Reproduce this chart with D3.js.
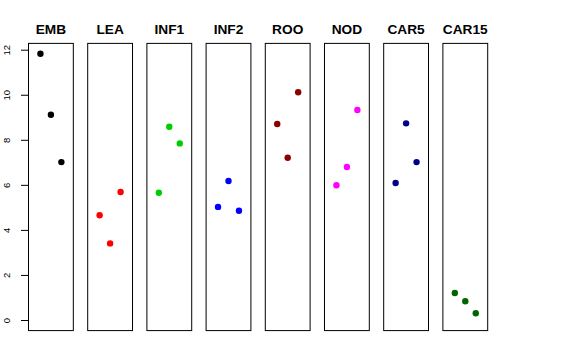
<!DOCTYPE html>
<html>
<head>
<meta charset="utf-8">
<script src="https://cdn.jsdelivr.net/npm/d3@7"></script>
<style>
  html, body { margin: 0; padding: 0; background: #fff; }
  svg { display: block; }
</style>
</head>
<body>
<svg id="chart" width="576" height="360"></svg>
<script>
// ---- data ----
const categories = ["EMB", "LEA", "INF1", "INF2", "ROO", "NOD", "CAR5", "CAR15"];
const colors = ["#000000", "#FF0000", "#00CD00", "#0000FF", "#8B0000", "#FF00FF", "#00008B", "#006400"];
const rep1 = [11.82, 4.65, 5.65, 5.02, 8.70, 5.98, 6.08, 1.20];
const rep2 = [9.11, 3.40, 8.58, 6.17, 7.20, 6.79, 8.73, 0.83];
const rep3 = [7.01, 5.68, 7.84, 4.85, 10.11, 9.32, 7.01, 0.30];
const yTicks = [0, 2, 4, 6, 8, 10, 12];

// ---- layout ----
const svg = d3.select("#chart");
const panelLeft = 28.5, panelRight = 487.7;
const panelTopVal = 12.28, panelBotVal = -0.47;

const xBand = d3.scaleBand().domain(categories).range([panelLeft, panelRight])
  .paddingInner(0.243).paddingOuter(0);
const y = d3.scaleLinear().domain([0, 12]).range([320, 49.7]);
const xIn = d3.scaleLinear().domain([-0.14, 4.14]);

const reps = [rep1, rep2, rep3];

categories.forEach((cat, i) => {
  const x0 = xBand(cat), bw = xBand.bandwidth();
  const g = svg.append("g");
  g.append("rect")
    .attr("x", x0).attr("y", y(panelTopVal))
    .attr("width", bw).attr("height", y(panelBotVal) - y(panelTopVal))
    .attr("fill", "none").attr("stroke", "#000").attr("stroke-width", 1);
  g.append("text")
    .attr("x", x0 + bw / 2).attr("y", 34)
    .attr("text-anchor", "middle")
    .attr("font-family", "Liberation Sans, Arial, Helvetica, sans-serif")
    .attr("font-weight", "bold").attr("font-size", "13.7px")
    .text(cat);
  const xs = xIn.copy().range([x0, x0 + bw]);
  reps.forEach((r, j) => {
    g.append("circle")
      .attr("cx", xs(j + 1)).attr("cy", y(r[i]))
      .attr("r", 3.2).attr("fill", colors[i]);
  });
});

// y axis
const axisG = svg.append("g").attr("transform", `translate(${panelLeft},0)`);
axisG.call(d3.axisLeft(y).tickValues(yTicks).tickSize(7.5).tickFormat(d3.format("d")));
axisG.select(".domain").remove();
axisG.selectAll(".tick line").attr("stroke", "#000");
axisG.selectAll(".tick text")
  .attr("font-family", "Liberation Sans, Arial, Helvetica, sans-serif")
  .attr("font-size", "9.5px").attr("fill", "#000")
  .attr("x", null).attr("dy", null)
  .attr("text-anchor", "middle")
  .attr("transform", "translate(-18.5,0) rotate(-90)");
axisG.append("line")
  .attr("x1", 0).attr("x2", 0).attr("y1", y(0)).attr("y2", y(12))
  .attr("stroke", "#000");
</script>
</body>
</html>
